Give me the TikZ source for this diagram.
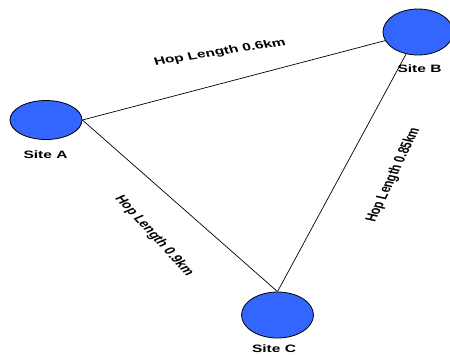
\documentclass[tikz,border=0pt]{standalone}
\usepackage{fontspec}
\setmainfont{Liberation Sans}
\usetikzlibrary{shapes.geometric}
\definecolor{siteblue}{RGB}{51,102,255}
\begin{document}
\begin{tikzpicture}[x=1pt,y=-1pt,
  site/.style={ellipse,draw=black,line width=0.8pt,fill=siteblue,inner sep=0pt},
  lbl/.style={font=\fontsize{10.7}{12}\selectfont\bfseries,inner sep=0pt,xscale=1.45},
  link/.style={draw=black,line width=0.7pt}]
\useasboundingbox (0,0) rectangle (450,354);
\clip (0,0) rectangle (450,354);
\node[site,minimum width=72pt,minimum height=39pt] (A) at (46,120) {};
\node[site,minimum width=70pt,minimum height=46pt] (B) at (418,32) {};
\node[site,minimum width=72pt,minimum height=46pt] (C) at (277.5,315) {};
\node[lbl,anchor=base] (lA) at (45.5,158) {Site A};
\node[lbl,anchor=base] (lB) at (419.5,72) {Site B};
\node[lbl,anchor=base] (lC) at (274,352) {Site C};
\draw[link] (A.east) -- (B);
\draw[link] (A.east) -- (C.north);
\draw[link] (C.north) -- (B);
\node[lbl,rotate=12.8] (hAB) at (220,52.5) {Hop Length 0.6km};
\node[lbl,rotate=-57.5] (hAC) at (154,236) {Hop Length 0.9km};
\node[lbl,rotate=71.7] (hCB) at (393.5,175) {Hop Length 0.85km};
\end{tikzpicture}
\end{document}
